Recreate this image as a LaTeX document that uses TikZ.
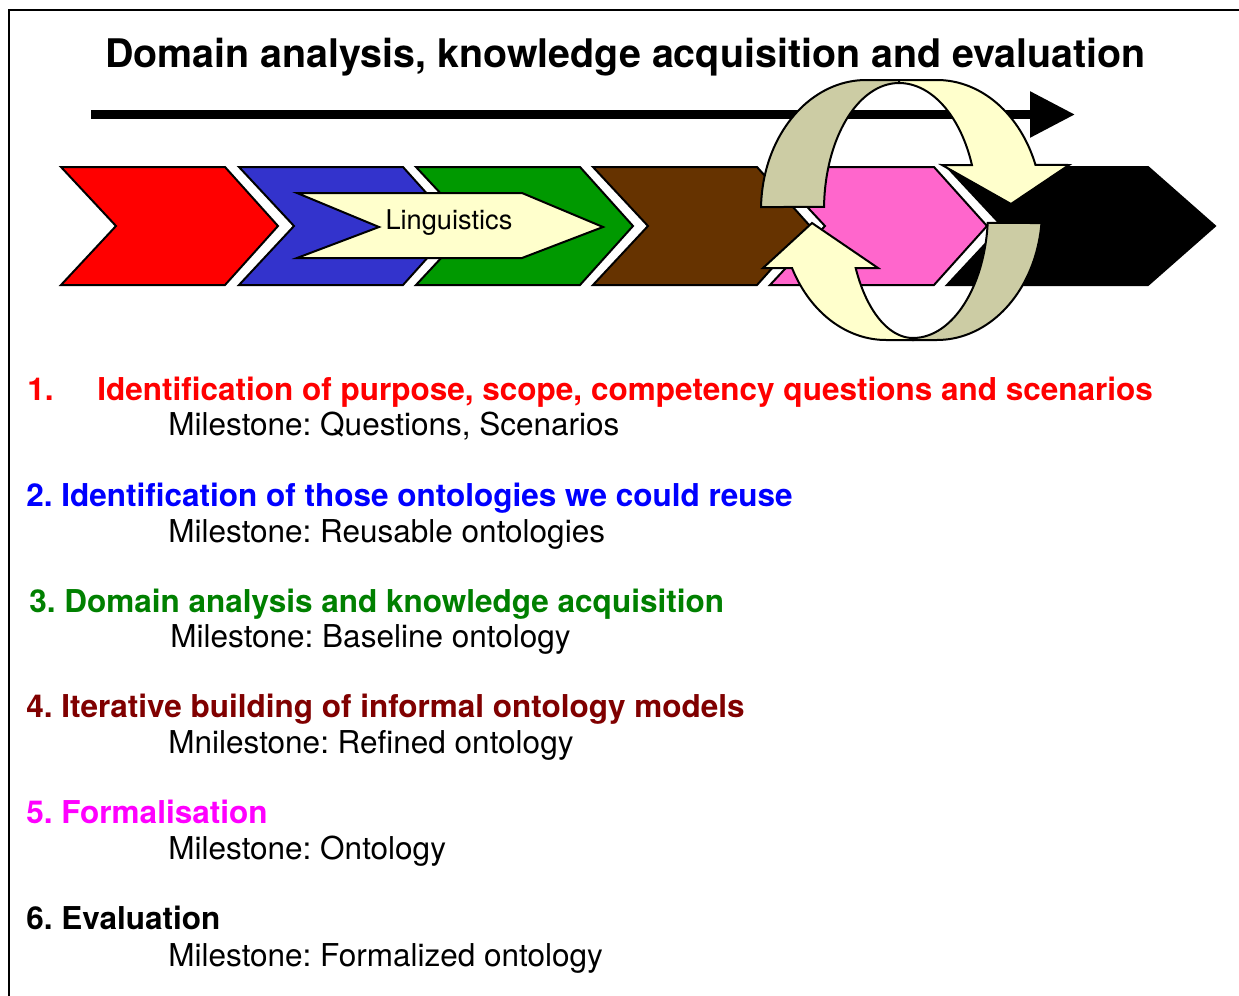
\documentclass[tikz,border=0pt]{standalone}
\usepackage{fontspec}
\setmainfont{TeX Gyre Heros}
\usetikzlibrary{arrows.meta}
\definecolor{cred}{HTML}{FF0000}
\definecolor{cblue}{HTML}{3333CC}
\definecolor{cgreen}{HTML}{009900}
\definecolor{cbrown}{HTML}{663300}
\definecolor{cpink}{HTML}{FF66CC}
\definecolor{lyellow}{HTML}{FFFFCC}
\definecolor{khaki}{RGB}{204,204,164}
\definecolor{tblue}{HTML}{0000FF}
\definecolor{tgreen}{HTML}{008000}
\definecolor{tbrown}{HTML}{800000}
\definecolor{tmag}{HTML}{FF00FF}
\begin{document}
\frenchspacing
\begin{tikzpicture}[x=0.5pt,y=-0.5pt,
  chev/.style={draw=black,line width=1pt,line join=miter},
  band/.style={draw=black,line width=1pt,line join=miter},
  head/.style={font=\bfseries\fontsize{15.75}{18}\selectfont,anchor=base west,inner sep=0pt},
  mile/.style={font=\fontsize{15.75}{18}\selectfont,anchor=base west,inner sep=0pt,text=black}]
\useasboundingbox (0,0) rectangle (1239,996);
\fill[white] (0,0) rectangle (1239,996);
% frame
\draw[line width=1pt] (9,996) -- (9,10) -- (1239,10);
% title
\node[font=\bfseries\fontsize{19.7}{24}\selectfont,anchor=base,inner sep=0pt] (title) at (625.5,67) {Domain analysis, knowledge acquisition and evaluation};
% chevrons
\filldraw[chev,fill=cred] (61,167) -- (225,167) -- (278,226) -- (225,285) -- (61,285) -- (116,226) -- cycle;
\filldraw[chev,fill=cblue] (239,167) -- (403,167) -- (456,226) -- (403,285) -- (239,285) -- (294,226) -- cycle;
\filldraw[chev,fill=cgreen] (416,167) -- (580,167) -- (633,226) -- (580,285) -- (416,285) -- (471,226) -- cycle;
\filldraw[chev,fill=cbrown] (593,167) -- (757,167) -- (810,226) -- (757,285) -- (593,285) -- (648,226) -- cycle;
\filldraw[chev,fill=cpink] (770,167) -- (934,167) -- (987,226) -- (934,285) -- (770,285) -- (825,226) -- cycle;
\filldraw[chev,fill=black] (947,167) -- (1148,167) -- (1215,226) -- (1148,285) -- (947,285) -- (1002,226) -- cycle;
% linguistics
\filldraw[chev,fill=lyellow] (297,193) -- (522,193) -- (603,227) -- (522,258) -- (297,258) -- (379,227) -- cycle;
\node[font=\fontsize{13.6}{16}\selectfont,anchor=base,inner sep=0pt] (ling) at (449,229) {Linguistics};
% top arrow
\coordinate (arS) at (91,114.5);
\coordinate (arE) at (1075,114.5);
\draw[line width=4.5pt,-{Triangle[length=22.5pt,width=22pt]}] (arS) -- (arE);
% upper khaki band
\filldraw[band,fill=khaki] plot[variable=\t,domain=181.3:270,samples=40] ({866+105*cos(\t)},{210+130*sin(\t)})
  -- (899,80) -- plot[variable=\t,domain=270:181.4,samples=40] ({899+75*cos(\t)},{210+127*sin(\t)}) -- cycle;
% upper yellow arrow
\filldraw[band,fill=lyellow] (899,80) -- plot[variable=\t,domain=270:339.7,samples=40] ({937+105*cos(\t)},{210+130*sin(\t)})
  -- (1069,165) -- (1011,204) -- (942,165)
  -- plot[variable=\t,domain=339.3:270,samples=40] ({899+78*cos(\t)},{210+127*sin(\t)}) -- cycle;
% lower khaki band
\filldraw[band,fill=khaki] plot[variable=\t,domain=5.74:90,samples=40] ({937+105*cos(\t)},{210+130*sin(\t)})
  -- (913,340) -- plot[variable=\t,domain=90:5,samples=40] ({913+75*cos(\t)},{212+126*sin(\t)}) -- cycle;
% lower yellow arrow
\filldraw[band,fill=lyellow] (913,340) -- plot[variable=\t,domain=90:153.5,samples=40] ({886+105*cos(\t)},{210+130*sin(\t)})
  -- (763,268) -- (812,223) -- (878,268)
  -- plot[variable=\t,domain=153.6:90,samples=40] ({913+64*cos(\t)},{212+126*sin(\t)}) -- cycle;
% list
\node[head,text=cred] (n1) at (27,400) {1.};
\node[head,text=cred] (h1) at (97,400) {Identification of purpose, scope, competency questions and scenarios};
\node[mile] (m1) at (168,435) {Milestone: Questions, Scenarios};
\node[head,text=tblue] (h2) at (26,506) {2. Identification of those ontologies we could reuse};
\node[mile] (m2) at (168,542) {Milestone: Reusable ontologies};
\node[head,text=tgreen] (h3) at (29,612) {3. Domain analysis and knowledge acquisition};
\node[mile] (m3) at (170,647) {Milestone: Baseline ontology};
\node[head,text=tbrown] (h4) at (26,717) {4. Iterative building of informal ontology models};
\node[mile] (m4) at (168,753) {Mnilestone: Refined ontology};
\node[head,text=tmag] (h5) at (26,823) {5. Formalisation};
\node[mile] (m5) at (168,859) {Milestone: Ontology};
\node[head,text=black] (h6) at (26,929) {6. Evaluation};
\node[mile] (m6) at (168,966) {Milestone: Formalized ontology};
\end{tikzpicture}
\end{document}
